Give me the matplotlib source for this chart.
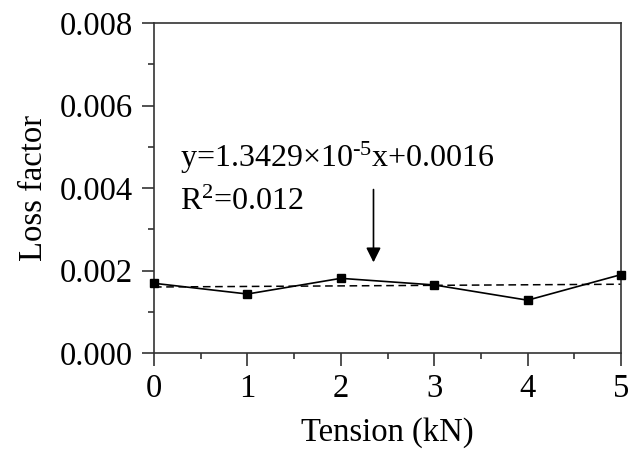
import matplotlib
matplotlib.use("Agg")
import matplotlib.pyplot as plt
import numpy as np
from matplotlib.ticker import MultipleLocator, FormatStrFormatter

plt.rcParams['font.family'] = ['Liberation Serif', 'DejaVu Serif']
plt.rcParams['mathtext.default'] = 'regular'

tension = [0, 1, 2, 3, 4, 5]
loss = [0.00169, 0.00143, 0.00181, 0.00165, 0.00128, 0.00190]
slope = 1.3429e-5
intercept = 0.0016
fit_x = [0, 5]
fit_y = [intercept + slope * v for v in fit_x]

fig = plt.figure(figsize=(6.36, 4.5), dpi=100)
ax = fig.add_axes([154/636, (450-353)/450, (621-154)/636, (353-23)/450])

ax.plot(tension, loss, '-', color='black', lw=1.2, marker='s', ms=6, clip_on=False, zorder=3)
ax.plot(fit_x, fit_y, '--', color='black', lw=1.1, dashes=(5, 3))

ax.set_xlim(0, 5)
ax.set_ylim(0, 0.008)
ax.xaxis.set_major_locator(MultipleLocator(1))
ax.xaxis.set_minor_locator(MultipleLocator(0.5))
ax.yaxis.set_major_locator(MultipleLocator(0.002))
ax.yaxis.set_minor_locator(MultipleLocator(0.001))
ax.yaxis.set_major_formatter(FormatStrFormatter('%.3f'))

for s in ax.spines.values():
    s.set_color('#333333')
    s.set_linewidth(1.2)

FS = 23.5
ax.tick_params(which='both', direction='out', top=False, right=False, colors='#333333', width=1.2, labelcolor='black')
ax.tick_params(which='major', length=9, labelsize=FS, pad=6)
ax.tick_params(which='minor', length=4)

ax.set_xlabel('Tension (kN)', fontsize=FS, labelpad=9)
ax.set_ylabel('Loss factor', fontsize=FS, labelpad=8)

ax.text(0.28, 0.00452, 'y=1.3429×10$^{\u2010 5}$x+0.0016', fontsize=23)
ax.text(0.28, 0.00347, 'R$^{2}$=0.012', fontsize=23)
ax.annotate('', xy=(2.35, 0.00213), xytext=(2.35, 0.00403),
            arrowprops=dict(arrowstyle='-|>', color='black', lw=1.2, mutation_scale=22))

fig.savefig('out.png', dpi=100)
